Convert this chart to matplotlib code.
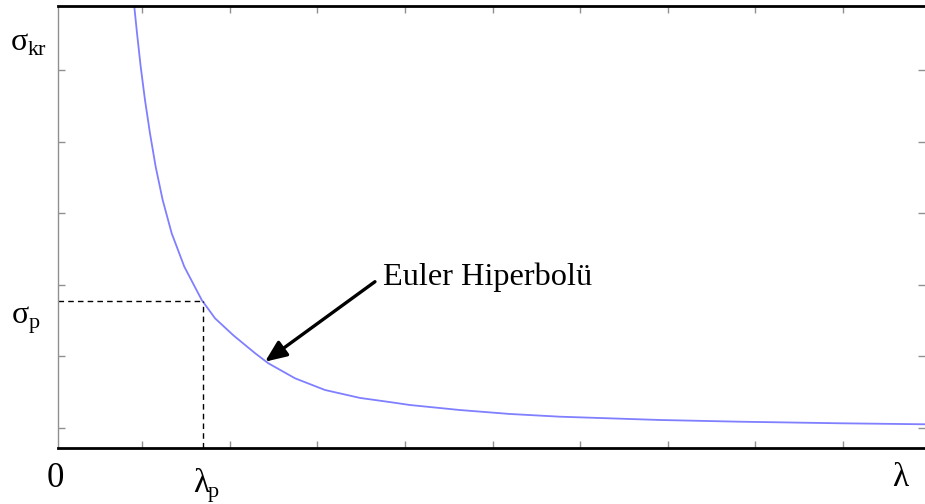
import matplotlib
matplotlib.use("Agg")
import matplotlib.pyplot as plt

# Euler hyperbola, values (lambda, sigma) in tick units
lam = [0.893, 0.908, 0.939, 0.981, 1.030, 1.087, 1.152, 1.232, 1.335, 1.479,
       1.678, 1.830, 2.039, 2.287, 2.439, 2.744, 3.086, 3.486, 3.828, 4.057,
       4.628, 5.197, 5.770, 6.341, 6.912, 7.826, 8.968, 9.939]
sig = [6.978, 6.884, 6.513, 6.046, 5.581, 5.116, 4.649, 4.184, 3.719, 3.253,
       2.788, 2.532, 2.295, 2.045, 1.904, 1.694, 1.531, 1.420, 1.362, 1.321,
       1.251, 1.196, 1.158, 1.135, 1.112, 1.088, 1.066, 1.052]
lam_p = 1.698
sig_p = 2.774
arrow_tail = (3.657, 3.043)
arrow_head = (2.401, 1.926)
text_pos = (3.749, 3.109)
xticks = [1, 2, 3, 4, 5, 6, 7, 8, 9]
yticks = [1, 2, 3, 4, 5, 6]
annot_text = "Euler Hiperbolü"

W, H = 925, 504
fig = plt.figure(figsize=(W / 100, H / 100), dpi=100)
ax = fig.add_axes([57.7 / W, 1 - 447.7 / H, (W - 57.7) / W, (447.7 - 5.5) / H])
ax.set_xlim(0.033, 9.94)
ax.set_ylim(0.725, 6.90)

ax.plot(lam, sig, color="#7f7fff", lw=1.3, clip_on=True)
ax.plot([ax.get_xlim()[0], lam_p], [sig_p, sig_p], color="black", lw=1.0,
        dashes=(4, 3))
ax.plot([lam_p, lam_p], [ax.get_ylim()[0], sig_p], color="black", lw=1.0,
        dashes=(4, 3))

ax.annotate("", xy=arrow_head, xytext=arrow_tail,
            arrowprops=dict(arrowstyle="-|>,head_length=1.3,head_width=0.55",
                            color="black", lw=2.4, shrinkA=0, shrinkB=0))

serif = "Liberation Serif"
fs = 23
ax.text(text_pos[0], text_pos[1], annot_text, fontsize=fs + 0.3, family=serif,
        va="center", ha="left")

ax.set_xticks(xticks)
ax.set_yticks(yticks)
ax.set_xticklabels([])
ax.set_yticklabels([])
ax.tick_params(direction="in", length=5, width=1, color="#909090",
               top=True, right=True)
for s in ["left", "right"]:
    ax.spines[s].set_color("#909090")
    ax.spines[s].set_linewidth(1.0)
ax.spines["right"].set_visible(False)
for s in ["top", "bottom"]:
    ax.spines[s].set_color("black")
    ax.spines[s].set_linewidth(2.0)

def fx(x):
    return x / W

def fy(y):
    return 1 - y / H

sub = 16
# sigma_kr
fig.text(fx(11), fy(50), "σ", fontsize=fs, family=serif, va="baseline")
fig.text(fx(28), fy(55), "kr", fontsize=sub, family=serif, va="baseline")
# sigma_p
fig.text(fx(12), fy(323), "σ", fontsize=fs, family=serif, va="baseline")
fig.text(fx(29), fy(328), "p", fontsize=sub, family=serif, va="baseline")
# 0
fig.text(fx(47), fy(487), "0", fontsize=fs + 2, family=serif, va="baseline")
# lambda_p
fig.text(fx(193), fy(492), "λ", fontsize=fs + 1, family=serif, va="baseline")
fig.text(fx(208), fy(497), "p", fontsize=sub, family=serif, va="baseline")
# lambda
fig.text(fx(892), fy(486), "λ", fontsize=fs + 1, family=serif, va="baseline")

fig.savefig("out.png", dpi=100)
